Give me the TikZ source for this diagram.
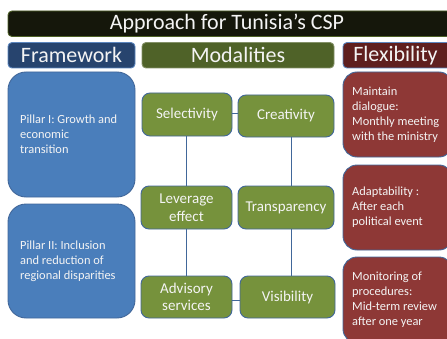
\documentclass[tikz,border=0pt]{standalone}
\usepackage{fontspec}
\setmainfont{Carlito}
\usetikzlibrary{calc}

\definecolor{titlefill}{HTML}{15170B}
\definecolor{titleline}{HTML}{4F6228}
\definecolor{fwfill}{HTML}{27446E}
\definecolor{modfill}{HTML}{4F6228}
\definecolor{flexfill}{HTML}{5F1F1E}
\definecolor{hdrline}{HTML}{5C86BE}
\definecolor{pillarfill}{HTML}{4A7EBB}
\definecolor{greenfill}{HTML}{76923C}
\definecolor{redfill}{HTML}{8E3836}
\definecolor{edgeblue}{HTML}{41679A}
\definecolor{txt}{HTML}{F4F4F4}

\tikzset{
  hdr/.style={rounded corners=4pt, draw=hdrline, line width=0.9pt, text=txt,
    font=\fontsize{22}{24}\selectfont, inner sep=0pt, minimum height=25.5pt},
  hdrtext/.style={text=txt, inner sep=0pt, font=\fontsize{22}{24}\selectfont},
  pillar/.style={rounded corners=18pt, draw=edgeblue, line width=0.9pt, fill=pillarfill,
    minimum width=127pt, inner sep=0pt},
  flexbox/.style={rounded corners=14pt, draw=edgeblue, line width=0.9pt, fill=redfill,
    minimum width=110pt, inner sep=0pt},
  modbox/.style={rounded corners=8pt, draw=edgeblue, line width=0.9pt, fill=greenfill,
    text=txt, align=center, inner sep=0pt,
    font=\fontsize{15}{17.5}\selectfont},
  bodytext/.style={text=txt, align=left, inner sep=0pt, anchor=west,
    font=\fontsize{12.4}{15}\selectfont},
  link/.style={draw=edgeblue, line width=1pt}
}

\begin{document}
\begin{tikzpicture}[x=1pt,y=1pt]
\useasboundingbox (0,0) rectangle (447,338);
\clip (0,0) rectangle (447,338);

% title bar
\node[hdr, draw=titleline, fill=titlefill, minimum width=446pt] (titlebar) at (231,314.25) {};
\node[hdrtext] (title) at (227,314.25) {Approach for Tunisia’s CSP};

% column headers
\node[hdr, fill=fwfill, minimum width=127pt] (hfw) at (71.5,282.75) {Framework};
\node[hdr, fill=modfill, draw=modfill!70!white, minimum width=192pt] (hmod) at (238,282.75) {Modalities};
\node[hdr, fill=flexfill, minimum width=112pt] (hflexbar) at (399,282.75) {};
\node[hdrtext] (hflex) at (395.5,282.75) {Flexibility};

% framework pillars
\node[pillar, minimum height=125pt] (p1) at (71.5,203.5) {};
\node[bodytext] (p1t) at (20,203.5) {Pillar I: Growth and\\economic\\transition};
\node[pillar, minimum height=114pt] (p2) at (71.5,77) {};
\node[bodytext] (p2t) at (20,77) {Pillar II: Inclusion\\and reduction of\\regional disparities};

% modalities grid
\node[modbox, minimum width=90pt, minimum height=43pt] (sel) at (187,223.5) {Selectivity};
\node[modbox, minimum width=96pt, minimum height=42pt] (cre) at (286,222) {Creativity};
\node[modbox, minimum width=91pt, minimum height=43pt] (lev) at (186.5,130.5) {Leverage\\effect};
\node[modbox, minimum width=96pt, minimum height=43pt] (tra) at (286,130.5) {Transparency};
\node[modbox, minimum width=91pt, minimum height=42pt] (adv) at (186.5,41) {Advisory\\services};
\node[modbox, minimum width=95pt, minimum height=42pt] (vis) at (287.5,41) {Visibility};

\coordinate (lx) at (186,0);
\coordinate (rx) at (291.5,0);
\coordinate (ytop) at (0,224.7);
\coordinate (ybot) at (0,38);

\path[link] (sel.east |- ytop) -- (cre.west |- ytop);
\path[link] (adv.east |- ybot) -- (vis.west |- ybot);
\path[link] (sel.south -| lx) -- (lev.north -| lx);
\path[link] (lev.south -| lx) -- (adv.north -| lx);
\path[link] (cre.south -| rx) -- (tra.north -| rx);
\path[link] (tra.south -| rx) -- (vis.north -| rx);

% flexibility boxes
\node[flexbox, minimum height=85pt] (f1) at (398,223.5) {};
\node[bodytext] (f1t) at (352,223.5) {Maintain\\dialogue:\\Monthly meeting\\with the ministry};
\node[flexbox, minimum height=85pt] (f2) at (398,130.5) {};
\node[bodytext] (f2t) at (352,130.5) {Adaptability :\\After each\\political event};
\node[flexbox, minimum height=86pt] (f3) at (398,38) {};
\node[bodytext] (f3t) at (352,38) {Monitoring of\\procedures:\\Mid-term review\\after one year};
\end{tikzpicture}
\end{document}
